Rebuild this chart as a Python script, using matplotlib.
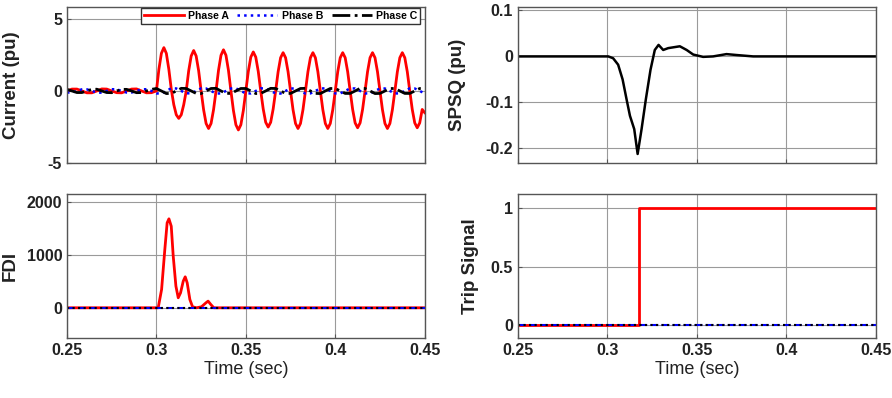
import numpy as np
import matplotlib
matplotlib.use('Agg')
import matplotlib.pyplot as plt

plt.rcParams['font.family'] = ['Liberation Sans', 'DejaVu Sans']
plt.rcParams['axes.unicode_minus'] = False

# ---------------- data ----------------
# Phase A current: small pre-fault wave (6 samples/cycle), big wave after 0.3 s (12 samples/cycle)
ia_pre = [0.0, 0.13, 0.13, 0.0, -0.13, -0.13,
          0.0, 0.14, 0.13, 0.0, -0.12, -0.13,
          0.0, 0.13, 0.14, 0.0, -0.13, -0.12]
ia_post = [0.0, 1.5, 2.6, 3.0, 2.6, 1.5, 0.1, -0.95, -1.65, -1.9, -1.65, -0.95,
           0.0, 1.4, 2.42, 2.8, 2.42, 1.4, 0.0, -1.3, -2.25, -2.6, -2.25, -1.3,
           0.0, 1.43, 2.47, 2.85, 2.47, 1.43, 0.0, -1.35, -2.34, -2.7, -2.34, -1.35,
           0.0, 1.35, 2.34, 2.7, 2.34, 1.35, 0.0, -1.25, -2.17, -2.5, -2.17, -1.25,
           0.0, 1.33, 2.3, 2.65, 2.3, 1.33, 0.0, -1.3, -2.25, -2.6, -2.25, -1.3,
           0.0, 1.33, 2.3, 2.65, 2.3, 1.33, 0.0, -1.3, -2.25, -2.6, -2.25, -1.3,
           0.0, 1.33, 2.3, 2.65, 2.3, 1.33, 0.0, -1.28, -2.21, -2.55, -2.21, -1.28,
           0.0, 1.33, 2.3, 2.65, 2.3, 1.33, 0.0, -1.3, -2.25, -2.6, -2.25, -1.3,
           0.0, 1.33, 2.3, 2.65, 2.3, 1.33, 0.0, -1.28, -2.21, -2.55, -2.21, -1.28,
           -1.5]

# Phase B and C currents, 6 samples per cycle over 0.25-0.45 s
ib = [-0.11, -0.11, 0.0, 0.11, 0.11, 0.0,
      -0.11, -0.12, 0.0, 0.12, 0.11, 0.0,
      -0.11, -0.11, 0.0, 0.11, 0.12, 0.0,
      -0.17, -0.18, 0.0, 0.19, 0.17, 0.0,
      -0.16, -0.17, 0.0, 0.18, 0.17, 0.0,
      -0.18, -0.17, 0.0, 0.17, 0.18, 0.0,
      -0.17, -0.17, 0.0, 0.18, 0.17, 0.0,
      -0.17, -0.18, 0.0, 0.17, 0.17, 0.0,
      -0.18, -0.17, 0.0, 0.17, 0.18, 0.0,
      -0.17, -0.17, 0.0, 0.18, 0.17, 0.0,
      -0.17, -0.18, 0.0, 0.17, 0.17, 0.0,
      -0.17, -0.17, 0.0, 0.18, 0.17, 0.0,
      -0.17]
ic = [0.11, 0.0, -0.11, -0.11, 0.0, 0.11,
      0.12, 0.0, -0.11, -0.12, 0.0, 0.11,
      0.11, 0.0, -0.12, -0.11, 0.0, 0.11,
      0.17, 0.0, -0.18, -0.17, 0.0, 0.18,
      0.17, 0.0, -0.17, -0.18, 0.0, 0.17,
      0.18, 0.0, -0.17, -0.17, 0.0, 0.17,
      0.17, 0.0, -0.18, -0.17, 0.0, 0.18,
      0.17, 0.0, -0.17, -0.17, 0.0, 0.17,
      0.18, 0.0, -0.17, -0.18, 0.0, 0.17,
      0.17, 0.0, -0.17, -0.17, 0.0, 0.18,
      0.17, 0.0, -0.18, -0.17, 0.0, 0.17,
      0.17, 0.0, -0.17, -0.17, 0.0, 0.17,
      0.17]

# SPSQ
t_spsq = [0.25, 0.3005, 0.3032, 0.306, 0.3085, 0.3107, 0.3126, 0.315, 0.3169,
          0.3191, 0.3215, 0.3241, 0.3265, 0.3286, 0.3312, 0.334, 0.3405, 0.3443,
          0.348, 0.3535, 0.3591, 0.3666, 0.3722, 0.3815, 0.4, 0.45]
spsq = [0.0, 0.0, -0.004, -0.018, -0.05, -0.093, -0.129, -0.158, -0.212,
        -0.158, -0.093, -0.029, 0.014, 0.025, 0.014, 0.018, 0.022, 0.014,
        0.004, -0.001, 0.0, 0.005, 0.003, 0.0, 0.0, 0.0]

# FDI for phase A (B and C stay at zero)
t_fdi = [0.25, 0.301, 0.3029, 0.3047, 0.306, 0.307, 0.3083, 0.3094, 0.3109,
         0.3122, 0.3135, 0.315, 0.3161, 0.3172, 0.3187, 0.3202, 0.3224, 0.3252,
         0.3277, 0.3289, 0.3304, 0.3321, 0.45]
fdi_a = [0, 0, 346, 1100, 1604, 1680, 1540, 975, 409,
         189, 283, 503, 585, 472, 157, 19, 0, 19,
         94, 126, 63, 0, 0]

# Trip signal
t_trip = [0.25, 0.3176, 0.3176, 0.45]
trip_a = [0, 0, 1, 1]

x_ticks = [0.25, 0.3, 0.35, 0.4, 0.45]
phase_labels = ['Phase A', 'Phase B', 'Phase C']


def style_axis(ax, ylim, yticks, ylabel, show_xlabels):
    """Apply the MATLAB-like look shared by all four panels."""
    ax.set_xlim(0.25, 0.45)
    ax.set_ylim(*ylim)
    ax.set_xticks(x_ticks)
    ax.set_yticks(yticks)
    ax.grid(True, color='#9a9a9a', linewidth=0.8)
    ax.set_axisbelow(True)
    for s in ax.spines.values():
        s.set_color('#555555')
        s.set_linewidth(1.0)
    ax.tick_params(direction='in', length=3, colors='#555555', labelcolor='#222222',
                   labelsize=11.5)
    for lab in ax.get_xticklabels() + ax.get_yticklabels():
        lab.set_fontweight('bold')
    ax.set_ylabel(ylabel, fontsize=13.5, fontweight='bold', color='#222222')
    if show_xlabels:
        ax.set_xticklabels(['0.25', '0.3', '0.35', '0.4', '0.45'],
                           fontweight='bold')
        ax.set_xlabel('Time (sec)', fontsize=13, color='#222222', labelpad=2)
    else:
        ax.set_xticklabels([])


def main():
    fig = plt.figure(figsize=(8.92, 3.98), dpi=100)

    ax1 = fig.add_axes([0.0751, 0.590, 0.401, 0.392])
    ax2 = fig.add_axes([0.5807, 0.590, 0.401, 0.392])
    ax3 = fig.add_axes([0.0751, 0.1508, 0.401, 0.362])
    ax4 = fig.add_axes([0.5807, 0.1508, 0.401, 0.362])

    # time bases for the sampled waveforms
    t_a = np.concatenate([np.linspace(0.25, 0.3, len(ia_pre) + 1)[:-1],
                          np.linspace(0.3, 0.45, len(ia_post))])
    ia = ia_pre + ia_post
    t_bc = np.linspace(0.25, 0.45, len(ib))

    # Current
    la, = ax1.plot(t_a, ia, color='red', linewidth=2.0)
    lb, = ax1.plot(t_bc, ib, color='blue', linestyle=':', linewidth=1.8)
    lc, = ax1.plot(t_bc, ic, color='black', linestyle='-.', linewidth=2.0)
    style_axis(ax1, (-5, 5.8), [-5, 0, 5], 'Current (pu)', False)

    # SPSQ
    ax2.plot(t_spsq, spsq, color='black', linewidth=1.8)
    style_axis(ax2, (-0.232, 0.107), [-0.2, -0.1, 0, 0.1], 'SPSQ (pu)', False)
    ax2.set_yticklabels(['-0.2', '-0.1', '0', '0.1'], fontweight='bold')

    # FDI
    zeros = [0, 0]
    ends = [0.25, 0.45]
    ax3.plot(t_fdi, fdi_a, color='red', linewidth=2.0)
    ax3.plot(ends, zeros, color='blue', linestyle='--', linewidth=1.5)
    ax3.plot(ends, zeros, color='black', linestyle=':', linewidth=1.5)
    style_axis(ax3, (-570, 2150), [0, 1000, 2000], 'FDI', True)

    # Trip signal
    ax4.plot(t_trip, trip_a, color='red', linewidth=2.0)
    ax4.plot(ends, zeros, color='blue', linestyle='--', linewidth=1.5)
    ax4.plot(ends, zeros, color='black', linestyle=':', linewidth=1.5)
    style_axis(ax4, (-0.11, 1.12), [0, 0.5, 1], 'Trip Signal', True)
    ax4.set_yticklabels(['0', '0.5', '1'], fontweight='bold')

    # place y labels where the reference has them
    ax1.yaxis.set_label_coords(-0.130, 0.5)
    ax3.yaxis.set_label_coords(-0.135, 0.5)
    ax2.yaxis.set_label_coords(-0.144, 0.5)
    ax4.yaxis.set_label_coords(-0.108, 0.5)

    leg = fig.legend([la, lb, lc], phase_labels, loc='upper right',
                     bbox_to_anchor=(425 / 892, 1 - 3 / 398), ncol=3,
                     prop={'size': 7.6, 'weight': 'bold'}, handlelength=3.8,
                     handletextpad=0.4, columnspacing=0.8, borderpad=0.25,
                     fancybox=False, framealpha=1)
    leg.get_frame().set_edgecolor('#333333')
    leg.get_frame().set_linewidth(1.0)

    fig.savefig('out.png', dpi=100)


if __name__ == "__main__":
    main()
